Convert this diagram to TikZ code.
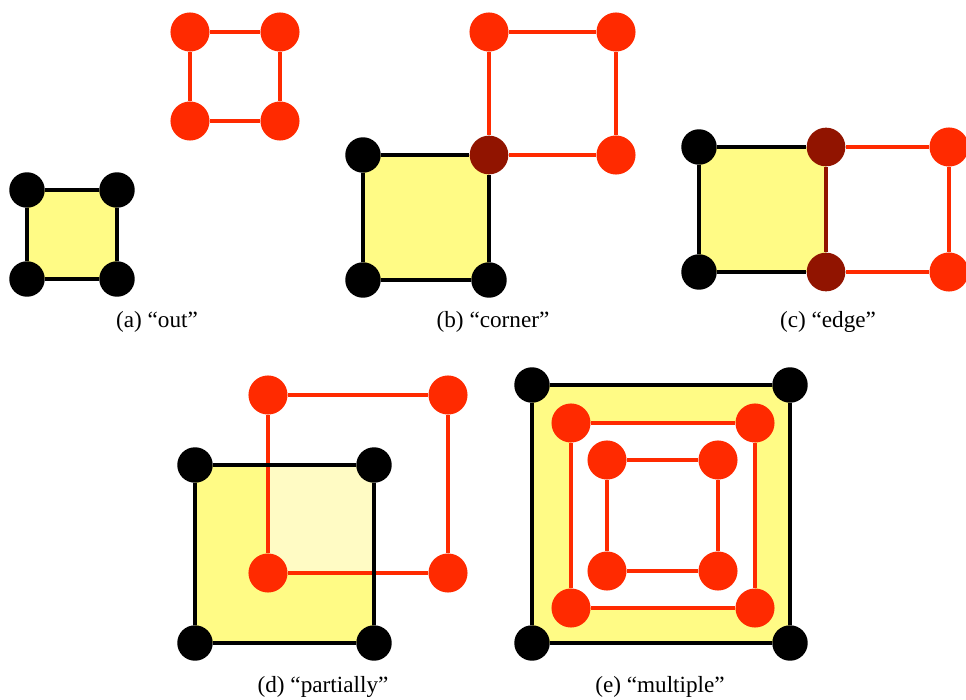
\documentclass[tikz,border=0pt]{standalone}
\usepackage{fontspec}
\setmainfont{Liberation Serif}
\usetikzlibrary{backgrounds}
\definecolor{vred}{RGB}{255,42,0}
\definecolor{vdark}{RGB}{145,20,0}
\definecolor{cellyellow}{RGB}{255,251,133}
\definecolor{cellpale}{RGB}{255,251,196}

\begin{document}
\begin{tikzpicture}[x=0.75pt, y=-0.75pt,
    bv/.style={circle, fill=black, inner sep=0pt, minimum size=26.6pt},
    rv/.style={circle, fill=vred, inner sep=0pt, minimum size=29.3pt},
    dv/.style={circle, fill=vdark, inner sep=0pt, minimum size=29pt},
    bline/.style={line width=3pt, black},
    rline/.style={line width=2.3pt, vred},
    dline/.style={line width=2.6pt, vdark},
    subcap/.style={font=\fontsize{17.4}{20}\selectfont}]
    \useasboundingbox (0,0) rectangle (966,699);

    % (a) 两个方块互不相交
    \node[bv] (a1) at (27,190) {};
    \node[bv] (a2) at (117,190) {};
    \node[bv] (a3) at (27,279) {};
    \node[bv] (a4) at (117,279) {};
    \node[rv] (ar1) at (190,32) {};
    \node[rv] (ar2) at (280,32) {};
    \node[rv] (ar3) at (190,121) {};
    \node[rv] (ar4) at (280,121) {};
    \draw[bline] (a1) -- (a2) -- (a4) -- (a3) -- (a1);
    \draw[rline] (ar1) -- (ar2) -- (ar4) -- (ar3) -- (ar1);
    \node[subcap] (capa) at (157,322) {(a) “out”};

    % (b) 共享一个角点
    \node[bv] (b1) at (363,155) {};
    \node[dv] (bd) at (489,155) {};
    \node[bv] (b3) at (363,280) {};
    \node[bv] (b4) at (489,280) {};
    \node[rv] (br1) at (489,32) {};
    \node[rv] (br2) at (616,32) {};
    \node[rv] (br4) at (616,155) {};
    \draw[bline] (b1) -- (bd) -- (b4) -- (b3) -- (b1);
    \draw[rline] (br1) -- (br2) -- (br4) -- (bd) -- (br1);
    \node[subcap] (capb) at (493,322) {(b) “corner”};

    % (c) 共享一条边
    \node[bv] (c1) at (699,147) {};
    \node[bv] (c3) at (699,272) {};
    \node[dv] (cd1) at (826,147) {};
    \node[dv] (cd2) at (826,272) {};
    \node[rv] (cr2) at (949,147) {};
    \node[rv] (cr4) at (949,272) {};
    \draw[bline] (cd1) -- (c1) -- (c3) -- (cd2);
    \draw[dline] (cd1) -- (cd2);
    \draw[rline] (cd1) -- (cr2) -- (cr4) -- (cd2);
    \node[subcap] (capc) at (828,322) {(c) “edge”};

    % (d) 部分重叠
    \node[bv] (d1) at (195,465) {};
    \node[bv] (d2) at (374,465) {};
    \node[bv] (d3) at (195,643) {};
    \node[bv] (d4) at (374,643) {};
    \node[rv] (dr1) at (268,395) {};
    \node[rv] (dr2) at (448,395) {};
    \node[rv] (dr3) at (268,573) {};
    \node[rv] (dr4) at (448,573) {};
    \draw[rline] (dr1) -- (dr2) -- (dr4) -- (dr3) -- (dr1);
    \draw[bline] (d1) -- (d2) -- (d4) -- (d3) -- (d1);
    \node[subcap] (capd) at (323,687) {(d) “partially”};

    % (e) 多个嵌套方块
    \node[bv] (e1) at (532,385) {};
    \node[bv] (e2) at (790,385) {};
    \node[bv] (e3) at (532,643) {};
    \node[bv] (e4) at (790,643) {};
    \node[rv] (eo1) at (571,423) {};
    \node[rv] (eo2) at (755,423) {};
    \node[rv] (eo3) at (571,608) {};
    \node[rv] (eo4) at (755,608) {};
    \node[rv] (ei1) at (607,460) {};
    \node[rv] (ei2) at (718,460) {};
    \node[rv] (ei3) at (607,571) {};
    \node[rv] (ei4) at (718,571) {};
    \draw[bline] (e1) -- (e2) -- (e4) -- (e3) -- (e1);
    \draw[rline] (eo1) -- (eo2) -- (eo4) -- (eo3) -- (eo1);
    \draw[rline] (ei1) -- (ei2) -- (ei4) -- (ei3) -- (ei1);
    \node[subcap] (cape) at (660,687) {(e) “multiple”};

    % 黄色填充放在底层
    \begin{pgfonlayer}{background}
        \fill[cellyellow] (a1.center) rectangle (a4.center);
        \fill[cellyellow] (b1.center) rectangle (b4.center);
        \fill[cellyellow] (c1.center) rectangle (cd2.center);
        \fill[cellyellow] (d1.center) rectangle (d4.center);
        \fill[cellpale] (dr3.center) rectangle (d2.center);
        \fill[cellyellow] (e1.center) rectangle (e4.center);
        \fill[white] (eo1.center) rectangle (eo4.center);
    \end{pgfonlayer}
\end{tikzpicture}
\end{document}
